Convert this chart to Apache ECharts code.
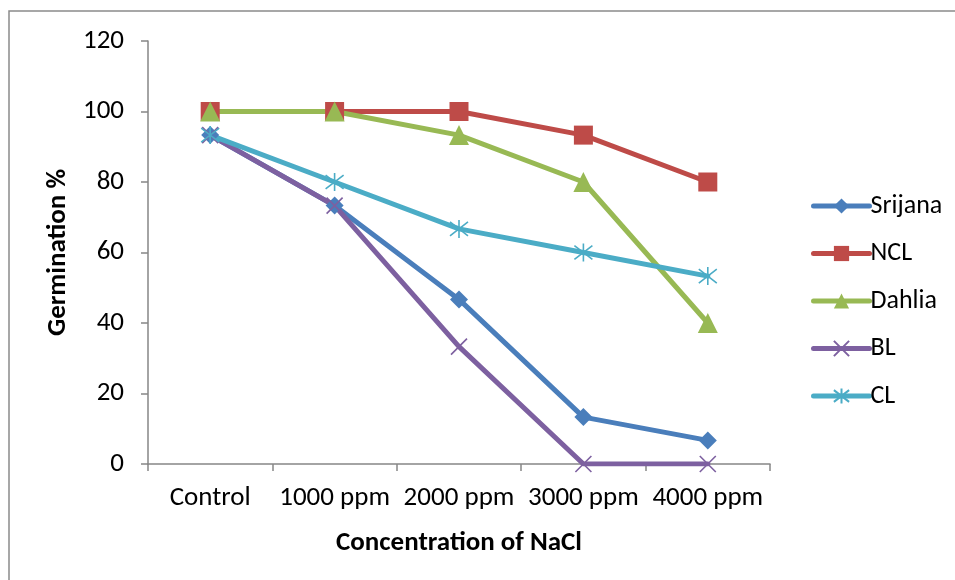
<!DOCTYPE html>
<html>
<head>
<meta charset="utf-8">
<script src="https://cdn.jsdelivr.net/npm/echarts@6/dist/echarts.min.js"></script>
<style>
  html, body { margin: 0; padding: 0; background: #fff; }
  #chart { width: 955px; height: 580px; }
</style>
</head>
<body>
<div id="chart"></div>
<script>
// Germination percentage under increasing NaCl concentration
const categories = ['Control', '1000 ppm', '2000 ppm', '3000 ppm', '4000 ppm'];
const srijana = [93.3, 73.3, 46.7, 13.3, 6.7];
const ncl     = [100, 100, 100, 93.3, 80];
const dahlia  = [100, 100, 93.3, 80, 40];
const bl      = [93.3, 73.3, 33.3, 0, 0];
const cl      = [93.3, 80, 66.7, 60, 53.3];

const FONT = 'Carlito, Lato, sans-serif';
const FONT_SIZE = 27;
const AXIS_GREY = '#868686';

// stroked marker outlines
const crossPath = 'path://M0,0 L10,10 M10,0 L0,10';
const starPath = 'path://M0,0 L10,10 M10,0 L0,10 M5,-1.5 L5,11.5';

function lineSeries(name, data, color, symbol, size, stroked) {
  return {
    name: name,
    type: 'line',
    data: data,
    symbol: symbol,
    symbolSize: size,
    showAllSymbol: true,
    lineStyle: { color: color, width: 5, cap: 'round', join: 'round' },
    itemStyle: stroked
      ? { color: color, borderColor: color, borderWidth: 1.6 }
      : { color: color, borderWidth: 0 },
    emphasis: { disabled: true },
    animation: false
  };
}

const chart = echarts.init(document.getElementById('chart'));
chart.setOption({
  backgroundColor: '#fff',
  animation: false,
  grid: { left: 148, right: 185, top: 41, bottom: 116 },
  graphic: [{
    type: 'rect',
    shape: { x: 9, y: 11, width: 1000, height: 700 },
    style: { fill: 'none', stroke: '#8a8a8a', lineWidth: 1.5 },
    silent: true
  }],
  legend: {
    orient: 'vertical',
    left: 806,
    top: 188,
    itemWidth: 56,
    itemHeight: 19,
    itemGap: 21.5,
    lineStyle: { width: 5, cap: 'round' },
    textStyle: { fontFamily: FONT, fontSize: 26, color: '#000', lineHeight: 19, padding: [0, 0, 0, -4] },
    data: ['Srijana', 'NCL', 'Dahlia', 'BL', 'CL']
  },
  xAxis: {
    type: 'category',
    data: categories,
    boundaryGap: true,
    name: 'Concentration of NaCl',
    nameLocation: 'middle',
    nameGap: 66,
    nameTextStyle: { fontFamily: FONT, fontSize: FONT_SIZE, fontWeight: 'bold', color: '#000' },
    axisLine: { lineStyle: { color: AXIS_GREY, width: 1.5 } },
    axisTick: { show: true, interval: 0, length: 7, inside: false, lineStyle: { color: AXIS_GREY, width: 1.5 } },
    axisLabel: { interval: 0, fontFamily: FONT, fontSize: FONT_SIZE, color: '#000', margin: 21 },
    splitLine: { show: false }
  },
  yAxis: {
    type: 'value',
    min: 0,
    max: 120,
    interval: 20,
    name: 'Germination %',
    nameLocation: 'middle',
    nameGap: 76,
    nameRotate: 90,
    nameTextStyle: { fontFamily: FONT, fontSize: FONT_SIZE, fontWeight: 'bold', color: '#000' },
    axisLine: { show: true, lineStyle: { color: AXIS_GREY, width: 1.5 } },
    axisTick: { show: true, length: 7, lineStyle: { color: AXIS_GREY, width: 1.5 } },
    axisLabel: { fontFamily: FONT, fontSize: FONT_SIZE, color: '#000', margin: 24 },
    splitLine: { show: false }
  },
  series: [
    lineSeries('Srijana', srijana, '#4A7EBB', 'diamond', 18, false),
    lineSeries('NCL', ncl, '#BE4B48', 'rect', 19, false),
    lineSeries('Dahlia', dahlia, '#98B954', 'triangle', 20, false),
    lineSeries('BL', bl, '#7D60A0', crossPath, 16, true),
    lineSeries('CL', cl, '#4BACC6', starPath, 18, true)
  ]
});
</script>
</body>
</html>
